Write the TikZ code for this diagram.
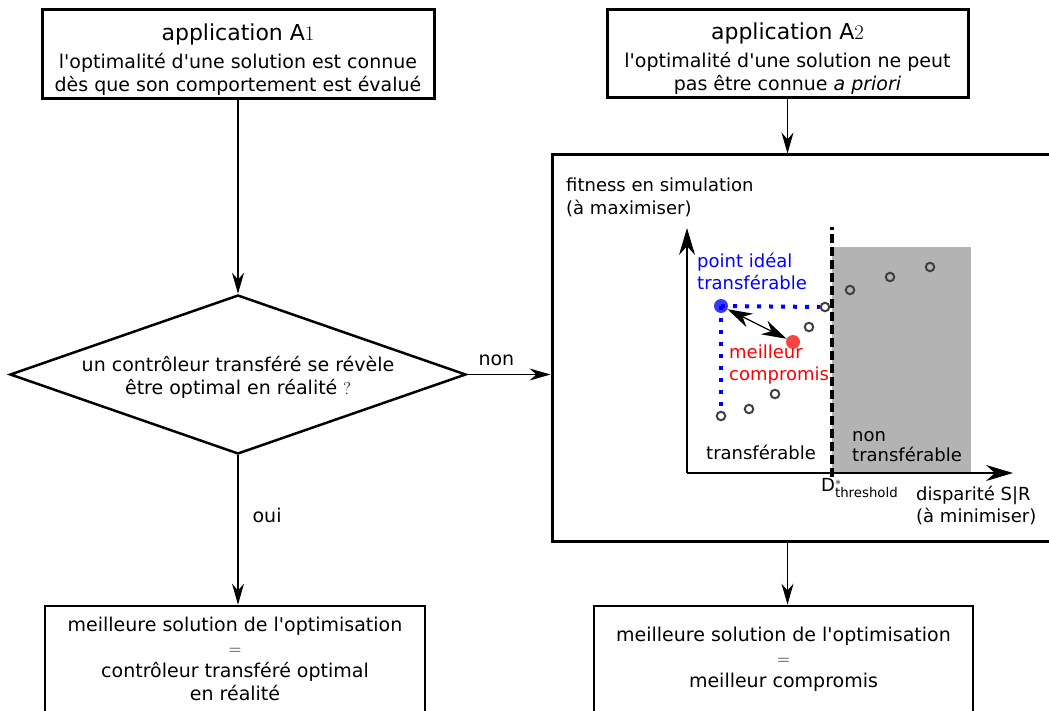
\documentclass[tikz,border=0pt]{standalone}
\usepackage{amsmath}
\usepackage{fontspec}
\setmainfont{DejaVu Sans}
\usepackage{xcolor}
\usetikzlibrary{arrows.meta}
\usetikzlibrary{shapes.geometric}
\usetikzlibrary{positioning}

\definecolor{zonegray}{HTML}{B3B3B3}
\definecolor{idealblue}{HTML}{3838F8}
\definecolor{bestred}{HTML}{F54545}
\definecolor{ptgray}{HTML}{404040}
\newcommand{\apos}{\textquotesingle}

\tikzset{
  txt/.style={font=\fontsize{19}{23}\selectfont},
  box/.style={draw,line width=3pt,align=center,inner sep=0pt,txt},
  link/.style={-{Stealth[length=21pt,width=12pt]},line width=1.2pt},
  lbl/.style={font=\fontsize{18}{22}\selectfont,inner sep=0pt,align=left},
  ptopen/.style={circle,draw=ptgray,line width=2pt,minimum size=8.5pt,inner sep=0pt},
}

\begin{document}
\begin{tikzpicture}[x=1pt,y=-1pt]
	 \useasboundingbox (0,0) rectangle (1049,711);
	 % flowchart
	 \node[box,minimum width=392pt,minimum height=89pt] (appA) at (238,54.5)
	   {\rule{0pt}{26pt}{\fontsize{22}{26}\selectfont application A$1$}\\[5pt]l\apos optimalité d\apos une solution est connue\\dès que son comportement est évalué};
	 \node[box,minimum width=361pt,minimum height=88pt] (appB) at (787.5,54)
	   {\rule{0pt}{26pt}{\fontsize{22}{26}\selectfont application A$2$}\\[5pt]l\apos optimalité d\apos une solution ne peut\\pas être connue \textit{a priori}};
	 \node[draw,diamond,line width=2.5pt,aspect=2.87,minimum width=456pt,minimum height=159pt,
	   inner sep=0pt,align=center,txt] (test) at (238,374.5)
	   {\rule{0pt}{20pt}un contrôleur transféré se révèle\\être optimal en réalité $?$};
	 \node[box,minimum width=510pt,minimum height=386pt] (plot) at (807,348) {};
	 \node[box,line width=2.7pt,minimum width=380pt,minimum height=106pt] (resA) at (235,659)
	   {meilleure solution de l\apos optimisation\\$=$\\contrôleur transféré optimal\\en réalité};
	 \node[box,line width=2.7pt,minimum width=379pt,minimum height=106pt] (resB) at (783.5,659)
	   {meilleure solution de l\apos optimisation\\$=$\\meilleur compromis};

	 \draw[link] (appA.south) -- (test.north);
	 \draw[link] (appB.south) -- (appB.south |- plot.north);
	 \draw[link] (test.east) -- node[pos=0.35,above=8pt,txt,inner sep=0pt] (non) {non} (test.east -| plot.west);
	 \draw[link] (test.south) -- node[pos=0.4,right=14pt,txt,inner sep=0pt] (oui) {oui} (test.south |- resA.north);
	 \draw[link] (appB.south |- plot.south) -- (appB.south |- resB.north);

	 % graph
	 \coordinate (orig) at (687,473);
	 \coordinate (ytop) at (687,228);
	 \coordinate (xend) at (1013,473);
	 \coordinate (thrlow) at (832,477);
	 \coordinate (thrtop) at (832,227);
	 \fill[zonegray] (832,247) rectangle (971,473);
	 \draw[line width=1.3pt,-{Stealth[length=27pt,width=16pt]}] (orig) -- (ytop);
	 \draw[line width=1.3pt,-{Stealth[length=27pt,width=16pt]}] (orig) -- (xend);
	 \draw[line width=3.5pt,dash pattern=on 9pt off 4pt] (thrlow) -- (thrtop);

	 \node[ptopen] (p1) at (721,416) {};
	 \node[ptopen] (p2) at (749,409) {};
	 \node[ptopen] (p3) at (775,394) {};
	 \node[ptopen] (p4) at (809,327) {};
	 \node[ptopen] (p5) at (825,307) {};
	 \node[ptopen] (p6) at (850,290) {};
	 \node[ptopen] (p7) at (890,277) {};
	 \node[ptopen] (p8) at (930,267) {};

	 \node[circle,fill=idealblue,minimum size=14pt,inner sep=0pt] (ideal) at (721,306) {};
	 \node[circle,fill=bestred,minimum size=14pt,inner sep=0pt] (best) at (793,342) {};
	 \draw[blue,line width=4pt,dash pattern=on 4pt off 8pt] (ideal.center) -- (p5.west);
	 \draw[blue,line width=4pt,dash pattern=on 4pt off 8pt] (ideal.center) -- (p1.north);
	 \draw[{Stealth[length=25pt,width=15pt]}-{Stealth[length=25pt,width=15pt]},line width=1.3pt] (ideal) -- (best);

	 \node[lbl,anchor=north west] (fit) at (566,178) {fitness en simulation\\[1pt](à maximiser)};
	 \node[lbl,anchor=north west,text=blue] (idlbl) at (697,253) {point idéal\\transférable};
	 \node[lbl,anchor=north west,text=red] (bestlbl) at (729,345) {meilleur\\compromis};
	 \node[lbl,anchor=west] (okzone) at (706,452) {transférable};
	 \node[lbl,anchor=north west] (nozone) at (852,431) {non\\[-2pt]transférable};
	 \node[lbl,anchor=north west] (thr) at (821,478)
	   {D$^{*}_{\text{\fontsize{13.3}{14}\selectfont threshold}}$};
	 \node[lbl,anchor=north west] (disp) at (916,486) {disparité S|R\\(à minimiser)};
\end{tikzpicture}
\end{document}
